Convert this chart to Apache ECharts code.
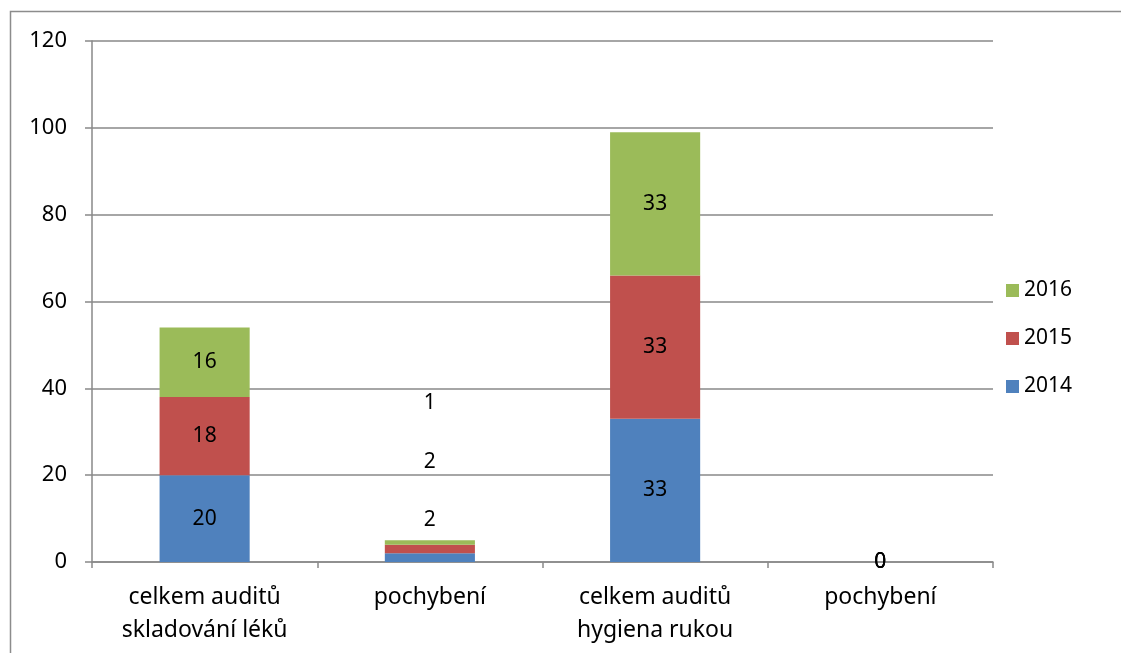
<!DOCTYPE html>
<html><head><meta charset="utf-8">
<script src="https://cdn.jsdelivr.net/npm/echarts@6/dist/echarts.min.js"></script>
<style>html,body{margin:0;padding:0;background:#fff}#c{width:1121px;height:653px}</style>
</head><body><div id="c"></div>
<script>
const categories = ['celkem auditů\nskladování léků', 'pochybení', 'celkem auditů\nhygiena rukou', 'pochybení'];
const yTicks = [0, 20, 40, 60, 80, 100, 120];
const s2014 = [20, 2, 33, 0];
const s2015 = [18, 2, 33, 0];
const s2016 = [16, 1, 33, 0];
const seriesNames = ['2014', '2015', '2016'];
const colors = ['#4F81BD', '#C0504D', '#9BBB59'];
// label offsets for the tiny "pochybení" segments (Excel pushed them upward)
const labelOffsets = [[0, -38], [0, -87], [0, -139]];

const chart = echarts.init(document.getElementById('c'), null, {renderer: 'canvas'});
const font = 'Noto Sans';
const allData = [s2014, s2015, s2016];
const series = allData.map((arr, si) => ({
  name: seriesNames[si],
  type: 'bar',
  stack: 'total',
  barWidth: '40%',
  itemStyle: {color: colors[si]},
  label: {show: true, position: 'inside', color: '#000', fontFamily: font, fontSize: 21},
  data: arr.map((v, i) => i === 1 ? {value: v, label: {offset: labelOffsets[si]}} : v)
}));

chart.setOption({
  animation: false,
  backgroundColor: '#fff',
  textStyle: {fontFamily: font},
  graphic: [{type: 'rect', shape: {x: 10.5, y: 11.5, width: 1130, height: 660}, style: {fill: 'none', stroke: '#8c8c8c', lineWidth: 1.5}, silent: true}],
  grid: {left: 92, right: 128, top: 41, bottom: 91, containLabel: false},
  legend: {
    orient: 'vertical', left: 1001, top: 275, itemGap: 27, itemWidth: 13, itemHeight: 13,
    icon: 'rect',
    data: ['2016', '2015', '2014'],
    textStyle: {fontFamily: font, fontSize: 21, color: '#000', padding: [0, 0, 0, 0]}
  },
  xAxis: {
    type: 'category', data: categories,
    axisLine: {lineStyle: {color: '#898989', width: 1.5}},
    axisTick: {show: true, length: 6, lineStyle: {color: '#898989', width: 1.5}},
    axisLabel: {color: '#000', fontFamily: font, fontSize: 23, lineHeight: 33, margin: 19, interval: 0}
  },
  yAxis: {
    type: 'value', min: 0, max: 120, interval: 20,
    axisLine: {show: true, lineStyle: {color: '#898989', width: 1.5}},
    axisTick: {show: true, length: 7, lineStyle: {color: '#898989', width: 1.5}},
    splitLine: {lineStyle: {color: '#898989', width: 1.5}},
    axisLabel: {color: '#000', fontFamily: font, fontSize: 22, margin: 25,
      formatter: v => yTicks.includes(v) ? String(v) : ''}
  },
  series: series
});
</script></body></html>
